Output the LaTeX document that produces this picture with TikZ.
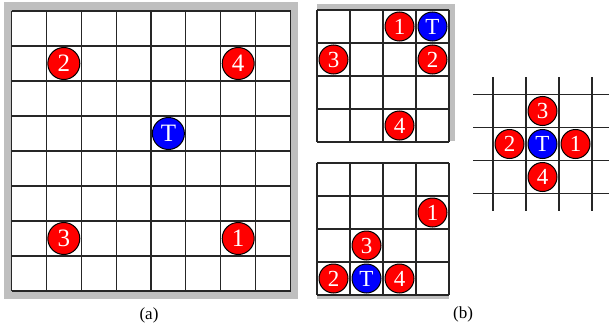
\documentclass[tikz,border=0pt]{standalone}
\usepackage{fontspec}
\setmainfont{Liberation Serif}

\begin{document}
\begin{tikzpicture}[x=1pt, y=-1pt,
  tok/.style={circle, draw=black, line width=1pt, fill=red, text=white,
              inner sep=0pt, minimum size=32pt,
              font=\fontsize{25}{25}\selectfont},
  tgt/.style={tok, fill=blue},
  sml/.style={minimum size=29pt, font=\fontsize{23}{23}\selectfont},
  gridln/.style={line width=1.1pt, draw=black!85},
  shade/.style={fill=black!25},
  sublbl/.style={font=\fontsize{17}{17}\selectfont},
]
  \useasboundingbox (0,0) rectangle (609,329);

  %% (a) large board, 8x8
  \fill[shade] (4,2) rectangle (298,299);
  \fill[white] (11.5,11) rectangle (290.5,291);
  \foreach \i in {0,...,8} {
    \draw[gridln] (11.5+\i*34.875,11) -- (11.5+\i*34.875,291);
    \draw[gridln] (11.5,11+\i*35) -- (290.5,11+\i*35);
  }
  \node[tok] (a2) at (63.8,63.5)   {2};
  \node[tok] (a4) at (238.2,63.5)  {4};
  \node[tgt] (aT) at (168.4,133.5) {T};
  \node[tok] (a3) at (63.8,238.5)  {3};
  \node[tok] (a1) at (238.2,238.5) {1};
  \node[sublbl] (capa) at (149,315) {(a)};

  %% (b) upper small board, 4x4
  \fill[shade] (317,4) rectangle (455,141);
  \fill[white] (317,10) rectangle (449,142);
  \foreach \i in {0,...,4} {
    \draw[gridln] (317+\i*33,10) -- (317+\i*33,142);
    \draw[gridln] (317,10+\i*33) -- (449,10+\i*33);
  }
  \node[tok,sml] (p1) at (399.5,26.5)  {1};
  \node[tgt,sml] (pT) at (432.5,26.5)  {T};
  \node[tok,sml] (p3) at (333.5,59.5)  {3};
  \node[tok,sml] (p2) at (432.5,59.5)  {2};
  \node[tok,sml] (p4) at (399.5,125.5) {4};

  %% (b) lower small board, 4x4
  \fill[shade] (317,170) rectangle (449,298.5);
  \fill[white] (317,163) rectangle (449,295);
  \foreach \i in {0,...,4} {
    \draw[gridln] (317+\i*33,163) -- (317+\i*33,295);
    \draw[gridln] (317,163+\i*33) -- (449,163+\i*33);
  }
  \node[tok,sml] (q1) at (432.5,212.5) {1};
  \node[tok,sml] (q3) at (366.5,245.5) {3};
  \node[tok,sml] (q2) at (333.5,278.5) {2};
  \node[tgt,sml] (qT) at (366.5,278.5) {T};
  \node[tok,sml] (q4) at (399.5,278.5) {4};
  \node[sublbl] (capb) at (463,314) {(b)};

  %% open cross
  \foreach \i in {0,...,3} {
    \draw[gridln] (493+\i*33,77) -- (493+\i*33,210.5);
    \draw[gridln] (473,94.5+\i*33) -- (609,94.5+\i*33);
  }
  \node[tgt,sml] (cT) at (542.5,144) {T};
  \node[tok,sml] (c3) at (542.5,111) {3};
  \node[tok,sml] (c4) at (542.5,177) {4};
  \node[tok,sml] (c2) at (509.5,144) {2};
  \node[tok,sml] (c1) at (575.5,144) {1};
\end{tikzpicture}
\end{document}
